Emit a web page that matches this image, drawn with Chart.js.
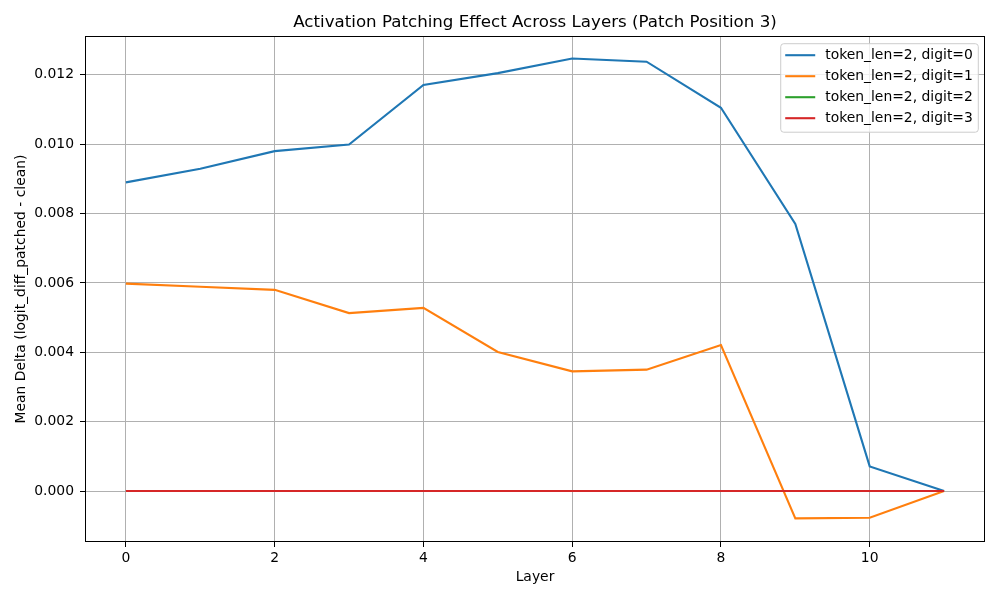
<!DOCTYPE html>
<html>
<head>
<meta charset="utf-8">
<script src="https://cdn.jsdelivr.net/npm/chart.js@4.4.0/dist/chart.umd.min.js"></script>
<style>
  html, body { margin: 0; padding: 0; background: #fff; }
  #wrap { width: 1000px; height: 600px; }
</style>
</head>
<body>
<div id="wrap"><canvas id="c" width="1000" height="600"></canvas></div>
<script>
const layers = [0, 1, 2, 3, 4, 5, 6, 7, 8, 9, 10, 11];
const digit0 = [0.00890, 0.00929, 0.00980, 0.00999, 0.01171, 0.01205, 0.01247, 0.01238, 0.01105, 0.00770, 0.00071, 0.00000];
const digit1 = [0.00598, 0.00589, 0.00580, 0.00513, 0.00528, 0.00401, 0.00345, 0.00350, 0.00421, -0.00079, -0.00077, 0.00000];
const digit2 = [0, 0, 0, 0, 0, 0, 0, 0, 0, 0, 0, 0];
const digit3 = [0, 0, 0, 0, 0, 0, 0, 0, 0, 0, 0, 0];
const seriesLabels = ['token_len=2, digit=0', 'token_len=2, digit=1', 'token_len=2, digit=2', 'token_len=2, digit=3'];
const seriesColors = ['#1f77b4', '#ff7f0e', '#2ca02c', '#d62728'];
const xTicks = [0, 2, 4, 6, 8, 10];
const yTicks = [0.000, 0.002, 0.004, 0.006, 0.008, 0.010, 0.012];

Chart.defaults.font.family = "'DejaVu Sans', sans-serif";
Chart.defaults.color = '#000';

const seriesValues = [digit0, digit1, digit2, digit3];
const datasets = seriesValues.map((vals, i) => ({
  label: seriesLabels[i],
  data: layers.map((l, j) => ({ x: l, y: vals[j] })),
  borderColor: seriesColors[i],
  backgroundColor: seriesColors[i],
  borderWidth: 2.1,
  pointRadius: 0,
  tension: 0,
  fill: false,
  order: seriesValues.length - i
}));

const framePlugin = {
  id: 'frame',
  afterDatasetsDraw(chart) {
    const a = chart.chartArea, ctx = chart.ctx;
    ctx.save();
    ctx.strokeStyle = '#000';
    ctx.lineWidth = 1;
    ctx.strokeRect(Math.round(a.left) + 0.5, Math.round(a.top) + 0.5, Math.round(a.right - a.left) - 1, Math.round(a.bottom - a.top) - 1);
    ctx.restore();
  }
};

const legendPlugin = {
  id: 'mplLegend',
  afterDraw(chart) {
    const a = chart.chartArea, ctx = chart.ctx;
    const ds = chart.data.datasets;
    ctx.save();
    ctx.font = "13.9px 'DejaVu Sans', sans-serif";
    let maxW = 0;
    ds.forEach(d => { maxW = Math.max(maxW, ctx.measureText(d.label).width); });
    const boxW = 44 + maxW + 6;
    const rowH = 21;
    const boxH = 11.5 + rowH * (ds.length - 1) + 14;
    const bx = a.right - 6.7 - boxW;
    const by = a.top + 7.7;
    const r = 3;
    ctx.beginPath();
    ctx.moveTo(bx + r, by);
    ctx.lineTo(bx + boxW - r, by);
    ctx.quadraticCurveTo(bx + boxW, by, bx + boxW, by + r);
    ctx.lineTo(bx + boxW, by + boxH - r);
    ctx.quadraticCurveTo(bx + boxW, by + boxH, bx + boxW - r, by + boxH);
    ctx.lineTo(bx + r, by + boxH);
    ctx.quadraticCurveTo(bx, by + boxH, bx, by + boxH - r);
    ctx.lineTo(bx, by + r);
    ctx.quadraticCurveTo(bx, by, bx + r, by);
    ctx.closePath();
    ctx.fillStyle = 'rgba(255,255,255,0.8)';
    ctx.fill();
    ctx.strokeStyle = '#cccccc';
    ctx.lineWidth = 1;
    ctx.stroke();
    ds.forEach((d, i) => {
      const y = by + 11.5 + i * rowH;
      ctx.beginPath();
      ctx.moveTo(bx + 4.5, y);
      ctx.lineTo(bx + 34.5, y);
      ctx.strokeStyle = d.borderColor;
      ctx.lineWidth = 2.1;
      ctx.stroke();
      ctx.fillStyle = '#000';
      ctx.textBaseline = 'middle';
      ctx.textAlign = 'left';
      ctx.fillText(d.label, bx + 44.5, y + 0.5);
    });
    ctx.restore();
  }
};

new Chart(document.getElementById('c'), {
  type: 'line',
  data: { datasets },
  options: {
    responsive: false,
    animation: false,
    devicePixelRatio: 1,
    layout: { padding: { left: 0, right: 15, top: 0, bottom: 0 } },
    plugins: {
      legend: { display: false },
      tooltip: { enabled: false },
      title: {
        display: true,
        text: 'Activation Patching Effect Across Layers (Patch Position 3)',
        fullSize: false,
        font: { size: 16.67, weight: 'normal' },
        color: '#000',
        padding: { top: 13, bottom: 3 }
      }
    },
    scales: {
      x: {
        type: 'linear',
        min: -0.55,
        max: 11.55,
        afterFit(s) { s.height = 58; },
        afterBuildTicks(s) { s.ticks = xTicks.map(v => ({ value: v })); },
        ticks: {
          font: { size: 13.9 },
          color: '#000',
          padding: 3,
          maxRotation: 0,
          callback: v => String(v)
        },
        grid: { color: '#b0b0b0', lineWidth: 1, tickColor: '#000', tickLength: 5, tickWidth: 1 },
        border: { display: false },
        title: {
          display: true,
          text: 'Layer',
          font: { size: 13.9 },
          color: '#000',
          padding: { top: 0, bottom: 14.6 }
        }
      },
      y: {
        type: 'linear',
        min: -0.00147,
        max: 0.01312,
        afterFit(s) { s.width = 85; },
        afterBuildTicks(s) { s.ticks = yTicks.map(v => ({ value: v })); },
        ticks: {
          font: { size: 13.9 },
          color: '#000',
          padding: 6,
          callback: v => v.toFixed(3)
        },
        grid: { color: '#b0b0b0', lineWidth: 1, tickColor: '#000', tickLength: 5, tickWidth: 1 },
        border: { display: false },
        title: {
          display: true,
          text: 'Mean Delta (logit_diff_patched - clean)',
          font: { size: 13.9 },
          color: '#000',
          padding: { top: 12.6, bottom: 0 }
        }
      }
    }
  },
  plugins: [framePlugin, legendPlugin]
});
</script>
</body>
</html>
